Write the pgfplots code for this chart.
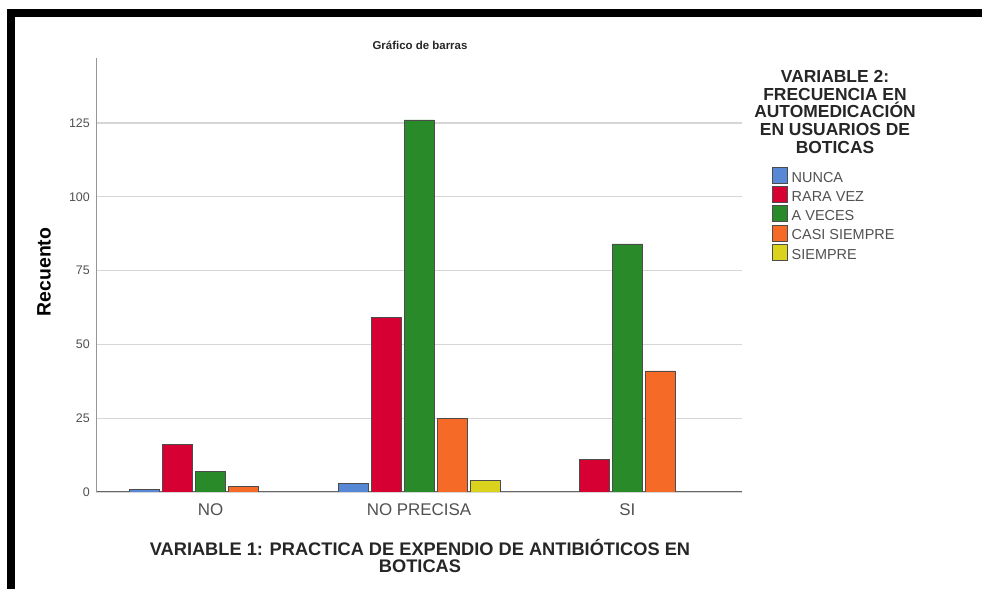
\documentclass[border=0pt]{standalone}
\usepackage{pgfplots}
\pgfplotsset{compat=1.18}
\usepackage{fontspec}
\setmainfont{Liberation Sans}
\definecolor{cnunca}{RGB}{86,136,214}
\definecolor{crara}{RGB}{214,0,50}
\definecolor{cveces}{RGB}{40,138,40}
\definecolor{ccasi}{RGB}{244,106,38}
\definecolor{csiempre}{RGB}{218,210,28}
\definecolor{gridgray}{RGB}{214,214,214}
\definecolor{axgray}{RGB}{150,150,150}
\definecolor{txtgray}{RGB}{80,80,80}
\begin{document}
\begin{tikzpicture}[x=1bp,y=1bp]
\useasboundingbox (0,0) rectangle (982,589);
% marco negro
\fill[black] (7,580) rectangle (982,572);
\fill[black] (7,0) rectangle (15,580);

\begin{axis}[
  at={(96bp,97bp)}, anchor=south west,
  scale only axis, width=646bp, height=434bp,
  xmin=-0.55, xmax=2.55, ymin=0, ymax=147,
  axis x line*=bottom, axis y line*=left,
  x axis line style={-, color=black!60, line width=1bp},
  y axis line style={-, color=axgray, line width=1bp},
  major tick length=0pt,
  xtick={0,1,2}, xticklabels={NO, NO PRECISA, SI},
  ytick={0,25,50,75,100,125},
  ymajorgrids, grid style={gridgray, line width=1.2bp},
  /pgf/number format/assume math mode=true,
  yticklabel style={font=\fontsize{12.5}{14}\selectfont, text=txtgray, inner sep=0pt, xshift=-6bp},
  xticklabel style={font=\fontsize{17}{19}\selectfont, text=txtgray, inner sep=0pt, yshift=-11bp},
  legend style={draw=none, fill=none, at={(1.046,0.750)}, anchor=north west,
    inner sep=0pt, row sep=2.5bp, font=\fontsize{14.5}{16}\selectfont,
    text=txtgray, nodes={inner sep=0pt, text height=15bp, text depth=1bp},
    /tikz/every odd column/.style={column sep=4bp}},
  legend cell align=left,
  legend image code/.code={\draw[#1] (0bp,-8bp) rectangle (15bp,8bp);},
  every axis plot/.append style={ybar, bar width=30bp, draw=black!70, line width=0.8bp},
]
\addplot[fill=cnunca, bar shift=-66bp] coordinates {(0,1) (1,3)};
\addlegendentry{NUNCA}
\addplot[fill=crara, bar shift=-33bp] coordinates {(0,16) (1,59) (2,11)};
\addlegendentry{RARA VEZ}
\addplot[fill=cveces, bar shift=0bp] coordinates {(0,7) (1,126) (2,84)};
\addlegendentry{A VECES}
\addplot[fill=ccasi, bar shift=33bp] coordinates {(0,2) (1,25) (2,41)};
\addlegendentry{CASI SIEMPRE}
\addplot[fill=csiempre, bar shift=66bp] coordinates {(1,4)};
\addlegendentry{SIEMPRE}
\end{axis}

\node[font=\bfseries\fontsize{11.5}{13}\selectfont, text=black!85] at (420,544) {Gráfico de barras};
\node[font=\bfseries\fontsize{19.5}{21}\selectfont, rotate=90] at (44,317) {Recuento};
\node[font=\bfseries\fontsize{17.5}{18}\selectfont, align=center, text=black!85] at (835,477)
  {VARIABLE 2:\\FRECUENCIA EN\\AUTOMEDICACIÓN\\EN USUARIOS DE\\BOTICAS};
\node[font=\bfseries\fontsize{18.3}{17}\selectfont, align=center, text=black!85] at (420,33)
  {VARIABLE 1: PRACTICA DE EXPENDIO DE ANTIBIÓTICOS EN\\BOTICAS};
\end{tikzpicture}
\end{document}
